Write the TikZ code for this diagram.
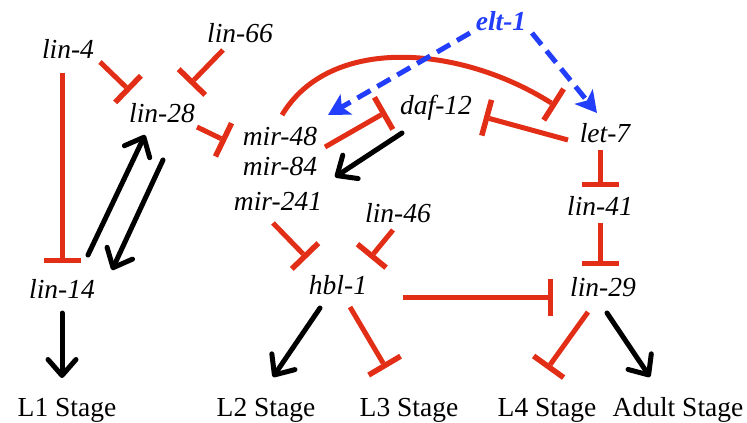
\documentclass[tikz,border=0pt]{standalone}
\usepackage{fontspec}
\setmainfont{Liberation Serif}
\usetikzlibrary{arrows.meta,calc}
\definecolor{inhred}{RGB}{226,46,22}
\definecolor{eltblue}{RGB}{34,62,250}
\tikzset{
  gene/.style={font=\fontsize{27.5}{30}\selectfont\itshape, inner sep=0pt, anchor=base},
  stage/.style={font=\fontsize{27.5}{30}\selectfont, inner sep=0pt, anchor=base},
  inh/.style={draw=inhred, line width=5pt,
    -{Rectangle[length=5.5pt,width=37pt,line width=0pt]}},
  act/.style={draw=black, line width=5pt, line cap=round,
    -{Straight Barb[length=16pt,width=28pt,line cap=round,line join=round]}},
  bluearr/.style={draw=eltblue, line width=5pt, dash pattern=on 15pt off 8pt,
    -{Stealth[length=21pt,width=23pt,inset=5pt]}}
}
\begin{document}
\begin{tikzpicture}[x=1pt,y=-1pt]
\useasboundingbox (0,0) rectangle (747,423);

% genes
\node[gene] (lin4)   at (68,58)  {lin-4};
\node[gene] (lin66)  at (240,42) {lin-66};
\node[gene] (lin28)  at (162,122) {lin-28};
\node[gene] (mir48)  at (280,145) {mir-48};
\node[gene] (mir84)  at (280,175) {mir-84};
\node[gene] (mir241) at (278,210) {mir-241};
\node[gene] (daf12)  at (436,114) {daf-12};
\node[gene, font=\fontsize{27.5}{30}\selectfont\bfseries\itshape, text=eltblue] (elt1) at (501,30) {elt-1};
\node[gene] (let7)   at (605,142) {let-7};
\node[gene] (lin41)  at (600,215) {lin-41};
\node[gene] (lin29)  at (603,296) {lin-29};
\node[gene] (lin46)  at (398,222) {lin-46};
\node[gene] (hbl1)   at (338,294) {hbl-1};
\node[gene] (lin14)  at (62,298) {lin-14};

% developmental stages
\node[stage] (L1) at (67,416)  {L1 Stage};
\node[stage] (L2) at (266,416) {L2 Stage};
\node[stage] (L3) at (409,416) {L3 Stage};
\node[stage] (L4) at (547,416) {L4 Stage};
\node[stage] (AD) at (678,416) {Adult Stage};

% lin-4 / lin-28 / lin-14 loop
\draw[inh] ($(lin4.base)+(32,4)$) -- ($(lin28.base)+(-32,-31)$);
\draw[inh] ($(lin66.base)+(-17,8)$) -- ($(lin28.base)+(28,-38)$);
\draw[inh] ($(lin28.base)+(35,5)$) -- ($(mir48.base)+(-54,-4)$);
\draw[inh] ($(lin4.base)+(-6,15)$) -- ($(lin14.base)+(0,-35)$);
\draw[act] ($(lin14.base)+(26,-43)$) -- ($(lin28.base)+(-17,13)$);
\draw[act] ($(lin28.base)+(1,38)$) -- ($(lin14.base)+(50,-28)$);
\draw[act] ($(lin14.base)+(0,15)$) -- ($(L1.base)+(-5,-38)$);

% mir-48 / daf-12 / let-7
\draw[inh] ($(mir48.base)+(2,-30)$) .. controls (330,35) and (460,45) .. ($(let7.base)+(-49,-36)$);
\draw[inh] ($(let7.base)+(-37,-2)$) -- ($(daf12.base)+(48,3)$);
\draw[inh] ($(mir48.base)+(45,2)$) -- ($(daf12.base)+(-50,-2)$);
\draw[act] ($(daf12.base)+(-34,19)$) -- ($(mir84.base)+(55,2)$);

% elt-1
\draw[bluearr] ($(elt1.base)+(-31,3)$) -- ($(mir48.base)+(48,-30)$);
\draw[bluearr] ($(elt1.base)+(31,3)$) -- ($(let7.base)+(-8,-29)$);

% let-7 / lin-41 / lin-29
\draw[inh] ($(let7.base)+(-5,8)$) -- ($(lin41.base)+(0,-28)$);
\draw[inh] ($(lin41.base)+(0,8)$) -- ($(lin29.base)+(-3,-30)$);

% hbl-1
\draw[inh] ($(mir241.base)+(-5,13)$) -- ($(hbl1.base)+(-31,-36)$);
\draw[inh] ($(lin46.base)+(-5,8)$) -- ($(hbl1.base)+(32,-36)$);
\draw[inh] ($(hbl1.base)+(65,3)$) -- ($(lin29.base)+(-50,1)$);
\draw[act] ($(hbl1.base)+(-18,14)$) -- ($(L2.base)+(7,-39)$);
\draw[inh] ($(hbl1.base)+(12,13)$) -- ($(L3.base)+(-23,-48)$);

% lin-29 outputs
\draw[inh] ($(lin29.base)+(-15,16)$) -- ($(L4.base)+(0,-47)$);
\draw[act] ($(lin29.base)+(4,17)$) -- ($(AD.base)+(-28,-39)$);
\end{tikzpicture}
\end{document}
